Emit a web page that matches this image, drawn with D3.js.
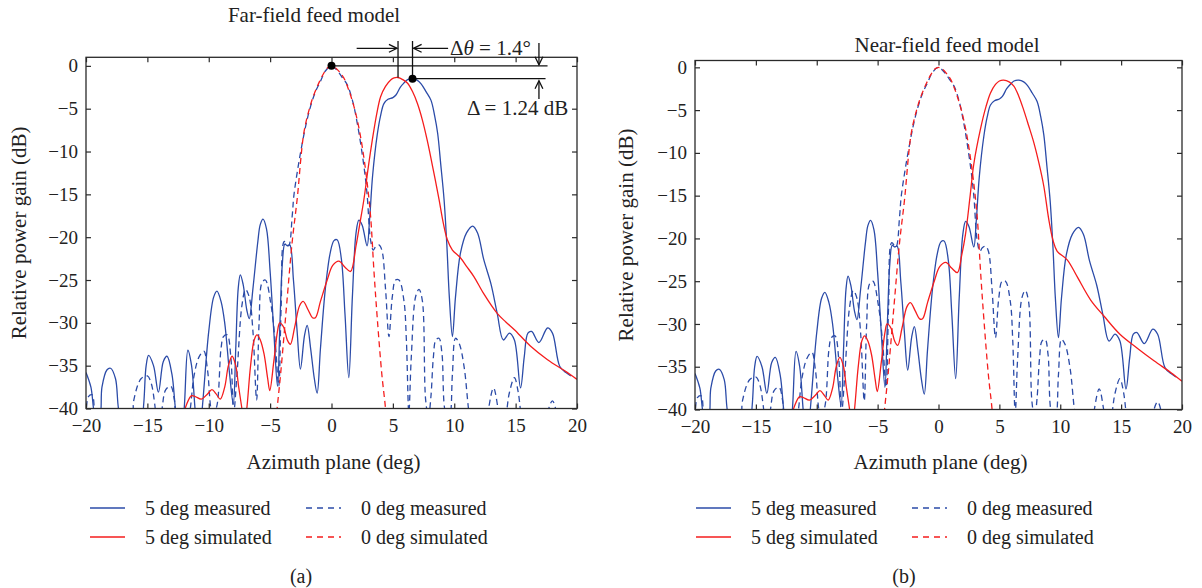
<!DOCTYPE html>
<html>
<head>
<meta charset="utf-8">
<script src="https://cdn.jsdelivr.net/npm/d3@7"></script>
<style>
  body { margin: 0; background: #fff; }
  svg text { font-family: "Liberation Serif", "DejaVu Serif", serif; fill: #222; }
</style>
</head>
<body>
<svg id="chart" width="1202" height="588"></svg>
<script>
// azimuth (deg), relative gain (dB); values under -40 are clipped by the axes
const meas5 = [[-20,-35.8],[-19.6,-37.5],[-19.2,-41],[-18.9,-41],[-18.7,-37.5],[-18.3,-35.5],[-18.0,-35.3],[-17.6,-36.5],[-17.3,-40.5],
  [-16.5,-44],[-15.6,-43],[-15.3,-39.5],[-15.1,-35],[-14.9,-33.8],[-14.5,-35],[-14.1,-38.1],[-13.7,-34.5],[-13.4,-33.9],[-13.0,-36],
  [-12.7,-40.2],[-12.3,-44],[-12.0,-40],[-11.7,-33.2],[-11.4,-35],[-11.1,-40.3],[-10.8,-44],[-10.5,-39.5],[-10.0,-31],[-9.6,-27],
  [-9.33,-26.3],[-9.0,-27.5],[-8.7,-30],[-8.3,-36],[-8.0,-39.5],[-7.8,-33],[-7.6,-26],[-7.43,-24.4],[-7.2,-25.5],[-6.9,-28.5],
  [-6.7,-29.5],[-6.4,-26],[-6.0,-20.5],[-5.8,-18.5],[-5.58,-17.9],[-5.3,-19],[-5.0,-24],[-4.7,-31],[-4.4,-37.4],[-4.2,-30],
  [-4.0,-23],[-3.8,-20.8],[-3.6,-21],[-3.4,-20.9],[-3.1,-25],[-2.8,-31],[-2.53,-35.4],[-2.2,-31.5],[-1.98,-30.3],[-1.7,-33],
  [-1.4,-36.5],[-1.17,-38.2],[-0.9,-33],[-0.5,-26],[-0.1,-21.8],[0.2,-20.4],[0.46,-20.3],[0.8,-22.5],[1.1,-29],[1.41,-36.4],
  [1.7,-27],[2.0,-19.5],[2.23,-18.0],[2.5,-18.6],[2.9,-21],[3.1,-18],[3.35,-12.8],[3.73,-8],[4.0,-5.8],[4.27,-4.4],[4.6,-3.9],
  [5.0,-3.7],[5.25,-3.4],[5.6,-2.5],[5.9,-2.0],[6.2,-1.6],[6.6,-1.5],[7.0,-1.7],[7.3,-2.1],[7.7,-3.0],[8.1,-4.0],[8.4,-5.8],
  [8.65,-7.9],[8.9,-11.5],[9.17,-15.6],[9.4,-21],[9.6,-27],[9.85,-31.6],[10.1,-27],[10.5,-21.9],[11.0,-19.5],[11.5,-18.7],
  [11.9,-19.5],[12.4,-22.6],[13.0,-25.5],[13.5,-28.9],[14.0,-32.0],[14.5,-31.2],[14.9,-32],[15.4,-37.6],[15.7,-34],[16.0,-31.2],
  [16.3,-31.0],[16.9,-32.3],[17.6,-30.6],[18.0,-31.2],[18.6,-35.1],[19.1,-35.8],[19.5,-36.2]];

const meas0 = [[-20,-41],[-19.8,-38.6],[-19.5,-38.4],[-19.3,-40.5],[-19.0,-44],[-16.4,-44],[-16.1,-39],[-15.5,-36.5],[-15.0,-36.2],
  [-14.7,-37],[-14.4,-39.5],[-14.1,-44],[-13.8,-40],[-13.5,-37.8],[-13.1,-37.4],[-12.8,-39],[-12.5,-44],[-11.9,-44],[-11.5,-40],
  [-11.2,-36.2],[-10.8,-34],[-10.4,-33.3],[-10.1,-35.5],[-9.7,-40.5],[-9.4,-40],[-9.0,-33],[-8.8,-31.6],[-8.5,-31.4],[-8.2,-34],
  [-7.97,-40.5],[-7.7,-36],[-7.3,-28],[-7.0,-26.1],[-6.7,-27],[-6.4,-31],[-6.1,-39],[-5.9,-30],[-5.66,-25.3],[-5.39,-25.0],
  [-4.95,-27.7],[-4.6,-32],[-4.3,-37.4],[-4.1,-28],[-3.84,-20.5],[-3.5,-21],[-3.2,-17.5],[-3.07,-15.2],[-2.8,-12.5],[-2.53,-10.2],
  [-2.1,-7],[-1.7,-4.7],[-1.3,-3.0],[-0.9,-1.8],[-0.5,-0.6],[0,0],[0.5,-0.6],[0.9,-1.4],[1.28,-2.2],[1.7,-4.0],[2.1,-6.7],
  [2.64,-11.7],[2.9,-15],[3.18,-20.3],[3.4,-21.5],[3.6,-21.1],[3.86,-20.9],[4.1,-21.5],[4.4,-26],[4.68,-31.6],[4.95,-27],
  [5.22,-25.0],[5.5,-25.0],[5.9,-27.4],[6.1,-32],[6.3,-40.5],[6.5,-34],[6.86,-26.9],[7.13,-26.1],[7.4,-27.4],[7.67,-39],
  [7.9,-41],[8.1,-38.6],[8.3,-34],[8.5,-32],[8.76,-31.8],[9.0,-33.6],[9.3,-40.5],[9.6,-41],[9.85,-36],[10.1,-31.8],[10.4,-32.4],
  [10.8,-35.1],[11.2,-40.5],[11.6,-44],[12.5,-44],[12.8,-40],[13.2,-37.6],[13.6,-40.3],[14.0,-44],[14.3,-40],[14.5,-38.1],
  [14.9,-36.4],[15.2,-38],[15.4,-40.3],[15.7,-44],[17.4,-44],[17.7,-40],[18.0,-39.1],[18.3,-40.3],[18.6,-44],[19.3,-42],
  [19.5,-40.5],[20,-41]];

const sim0 = [[-4.7,-44],[-4.43,-40],[-4.16,-36.2],[-3.9,-32],[-3.62,-27.3],[-3.2,-20.5],[-2.8,-15.6],[-2.26,-7.9],[-1.8,-5.0],
  [-1.44,-3.4],[-1.0,-1.9],[-0.63,-0.86],[-0.3,-0.2],[0,0],[0.3,-0.2],[0.65,-0.7],[1.0,-1.4],[1.4,-2.8],[1.82,-4.7],[2.2,-7],
  [2.5,-9.4],[2.85,-13],[3.18,-17.5],[3.46,-24],[3.73,-29.5],[4.1,-36],[4.4,-40],[4.6,-44]];

const sim5Side = [[-12.6,-44],[-12.2,-41.5],[-11.8,-39.5],[-11.4,-38.5],[-11.1,-38.6],[-10.6,-38.9],[-10.1,-38.3],[-9.74,-37.8],
  [-9.4,-38.3],[-9.06,-38.9],[-8.7,-37.5],[-8.4,-35],[-8.1,-33.9],[-7.8,-35],[-7.57,-37.4],[-7.3,-40],[-7.1,-42],[-6.9,-40],
  [-6.6,-35.1],[-6.3,-32],[-6.07,-31.4],[-5.8,-32],[-5.5,-33.6],[-5.2,-36.5],[-5.03,-37.9],[-4.7,-34.5],[-4.4,-31],[-4.22,-30.0],
  [-3.9,-30.5],[-3.6,-32],[-3.35,-32.5],[-3.0,-30.5],[-2.6,-28],[-2.31,-27.5],[-1.9,-28.5],[-1.55,-29.4],[-1.31,-29.4],
  [-0.9,-27.5],[-0.35,-25.0],[0.1,-23.3],[0.6,-22.8],[1.1,-23.5],[1.55,-24.0]];

const sim5Far = sim5Side.concat([[2.0,-21],[2.3,-18.5],[2.64,-15.6],[3.0,-11.8],[3.32,-8.7],[3.7,-5.5],[4.0,-3.6],[4.4,-2.4],
  [4.82,-1.64],[5.1,-1.4],[5.42,-1.36],[5.8,-1.6],[6.18,-2.0],[6.6,-3.0],[7.0,-4.4],[7.4,-6.3],[7.8,-8.7],[8.3,-12.2],[8.76,-15.6],
  [9.1,-18.3],[9.44,-20.3],[9.85,-21.5],[10.5,-22.4],[11.0,-23.4],[11.6,-24.6],[12.4,-26.6],[13.5,-28.9],[14.2,-29.9],
  [14.9,-30.8],[16.2,-32.7],[17.6,-34.3],[19.0,-35.6],[20,-36.6]]);

const sim5Near = sim5Side.concat([[1.9,-22],[2.22,-19.5],[2.6,-15],[2.9,-11.3],[3.45,-7.2],[3.9,-4.6],[4.27,-3.0],[4.68,-2.0],
  [5.0,-1.6],[5.35,-1.5],[5.8,-1.7],[6.19,-2.2],[6.6,-3.4],[7.0,-5.0],[7.4,-6.8],[7.83,-8.8],[8.25,-11.2],[8.65,-13.9],
  [9.06,-17.8],[9.4,-20.2],[9.75,-21.5],[10.57,-22.5],[11.4,-24.5],[12.5,-27.2],[13.6,-29.1],[14.9,-31.2],[16.3,-32.8],
  [17.7,-34.3],[19.1,-35.7],[20,-36.7]]);

const xTicks = [-20, -15, -10, -5, 0, 5, 10, 15, 20];
const yTicks = [0, -5, -10, -15, -20, -25, -30, -35, -40];
const legendNames = ["5 deg measured", "0 deg measured", "5 deg simulated", "0 deg simulated"];

const blue = "#2b4ba8", red = "#f51d1d";
const svg = d3.select("#chart");
const fmt = d => (d < 0 ? "\u2212" + Math.abs(d) : "" + d);

const panels = [
  {id: "a", left: 86, right: 577, top: 57.3, bottom: 408.5, yMax: 1, title: "Far-field feed model", titleX: 314, titleY: 22,
   sim5: sim5Far, yLabelX: 19, legX: 90, subX: 301},
  {id: "b", left: 695, right: 1182, top: 60.5, bottom: 409.5, yMax: 0.8, title: "Near-field feed model", titleX: 947, titleY: 52,
   sim5: sim5Near, yLabelX: 626, legX: 696, subX: 904}
];

panels.forEach(p => {
  const x = d3.scaleLinear().domain([-20, 20]).range([p.left, p.right]);
  const y = d3.scaleLinear().domain([-40, p.yMax]).range([p.bottom, p.top]);
  const g = svg.append("g");

  g.append("clipPath").attr("id", "clip" + p.id).append("rect")
    .attr("x", p.left).attr("y", p.top).attr("width", p.right - p.left).attr("height", p.bottom - p.top);

  const line = d3.line().x(d => x(d[0])).y(d => y(d[1])).curve(d3.curveCatmullRom.alpha(0.5));
  const series = [
    {data: meas5, color: blue, dash: null},
    {data: meas0, color: blue, dash: "6,4"},
    {data: p.sim5, color: red, dash: null},
    {data: sim0, color: red, dash: "6,4"}
  ];
  const lines = g.append("g").attr("clip-path", `url(#clip${p.id})`);
  series.forEach(s => {
    lines.append("path").attr("d", line(s.data)).attr("fill", "none")
      .attr("stroke", s.color).attr("stroke-width", 1.3).attr("stroke-dasharray", s.dash);
  });

  // axes with mirrored inward ticks
  const ax = (gen, tr) => g.append("g").attr("transform", tr).call(gen);
  ax(d3.axisBottom(x).tickValues(xTicks).tickSize(-5).tickPadding(10).tickFormat(fmt), `translate(0,${p.bottom})`);
  ax(d3.axisTop(x).tickValues(xTicks).tickSize(-5).tickFormat(""), `translate(0,${p.top})`);
  ax(d3.axisLeft(y).tickValues(yTicks).tickSize(-5).tickPadding(8).tickFormat(fmt), `translate(${p.left},0)`);
  ax(d3.axisRight(y).tickValues(yTicks).tickSize(-5).tickFormat(""), `translate(${p.right},0)`);
  g.selectAll(".tick line").attr("stroke", "#2a2a2a").attr("stroke-width", 1.2);
  g.selectAll(".tick text").attr("font-size", 19).attr("fill", "#222")
    .attr("font-family", "Liberation Serif, serif");
  g.selectAll(".domain").remove();
  g.append("rect").attr("x", p.left).attr("y", p.top).attr("width", p.right - p.left).attr("height", p.bottom - p.top)
    .attr("fill", "none").attr("stroke", "#2a2a2a").attr("stroke-width", 1.3);

  const cx = (p.left + p.right) / 2;
  g.append("text").attr("x", p.titleX).attr("y", p.titleY).attr("text-anchor", "middle").attr("font-size", 21).text(p.title);
  g.append("text").attr("x", cx + 2).attr("y", 469).attr("text-anchor", "middle").attr("font-size", 21).text("Azimuth plane (deg)");
  g.append("text").attr("transform", `translate(${p.yLabelX},${(p.top + p.bottom) / 2}) rotate(-90)`)
    .attr("dy", "0.35em").attr("text-anchor", "middle").attr("font-size", 21).text("Relative power gain (dB)");

  // legend, 2 x 2
  const leg = g.append("g");
  series.forEach((s, i) => {
    const lx = p.legX + (i % 2) * 216, ly = 508 + Math.floor(i / 2) * 29;
    leg.append("line").attr("x1", lx).attr("x2", lx + 35).attr("y1", ly).attr("y2", ly)
      .attr("stroke", s.color).attr("stroke-width", 1.6).attr("stroke-dasharray", s.dash ? "6,5" : null);
    leg.append("text").attr("x", lx + 55).attr("y", ly).attr("dy", "0.35em").attr("font-size", 20)
      .text(legendNames[i]);
  });

  g.append("text").attr("x", p.subX).attr("y", 576).attr("dy", "0.35em").attr("text-anchor", "middle")
    .attr("font-size", 20).text(`(${p.id})`);

  if (p.id === "a") {
    // beam squint annotation
    const peak0 = [0, 0], peakSim = [5.42, -1.36], peakMeas = [6.6, -1.5];
    const yTop = 41, yArr = 48.3, xEnd = x(17.6), xArrow = x(16.9);
    const stroke = sel => sel.attr("stroke", "#111").attr("stroke-width", 1.3).attr("fill", "none");
    const an = g.append("g");
    stroke(an.append("line").attr("x1", x(peak0[0])).attr("x2", xEnd).attr("y1", y(peak0[1])).attr("y2", y(peak0[1])));
    stroke(an.append("line").attr("x1", x(peakMeas[0])).attr("x2", xEnd - 2).attr("y1", y(peakMeas[1])).attr("y2", y(peakMeas[1])));
    stroke(an.append("line").attr("x1", x(peakSim[0])).attr("x2", x(peakSim[0])).attr("y1", yTop).attr("y2", y(peakSim[1])));
    stroke(an.append("line").attr("x1", x(peakMeas[0])).attr("x2", x(peakMeas[0])).attr("y1", yTop).attr("y2", y(peakMeas[1])));
    const arrow = (x1, y1, x2, y2) => {
      stroke(an.append("line").attr("x1", x1).attr("y1", y1).attr("x2", x2).attr("y2", y2));
      const a = Math.atan2(y2 - y1, x2 - x1), h = 9, w = 0.45;
      stroke(an.append("path").attr("d",
        `M${x2 - h * Math.cos(a - w)},${y2 - h * Math.sin(a - w)}L${x2},${y2}L${x2 - h * Math.cos(a + w)},${y2 - h * Math.sin(a + w)}`));
    };
    arrow(x(2.05), yArr, x(peakSim[0]) - 1, yArr);
    arrow(x(9.5), yArr, x(peakMeas[0]) + 1, yArr);
    arrow(xArrow, 43, xArrow, y(peak0[1]) - 1);
    arrow(xArrow, 99, xArrow, y(peakMeas[1]) + 2);
    [peak0, peakMeas].forEach(d => an.append("circle").attr("cx", x(d[0])).attr("cy", y(d[1])).attr("r", 4).attr("fill", "#000"));
    const t1 = an.append("text").attr("x", 450).attr("y", 55).attr("font-size", 21);
    t1.append("tspan").text("\u0394");
    t1.append("tspan").attr("font-style", "italic").text("\u03b8");
    t1.append("tspan").text(" = 1.4\u00b0");
    an.append("text").attr("x", 467).attr("y", 115).attr("font-size", 21).text("\u0394 = 1.24 dB");
  }
});
</script>
</body>
</html>
